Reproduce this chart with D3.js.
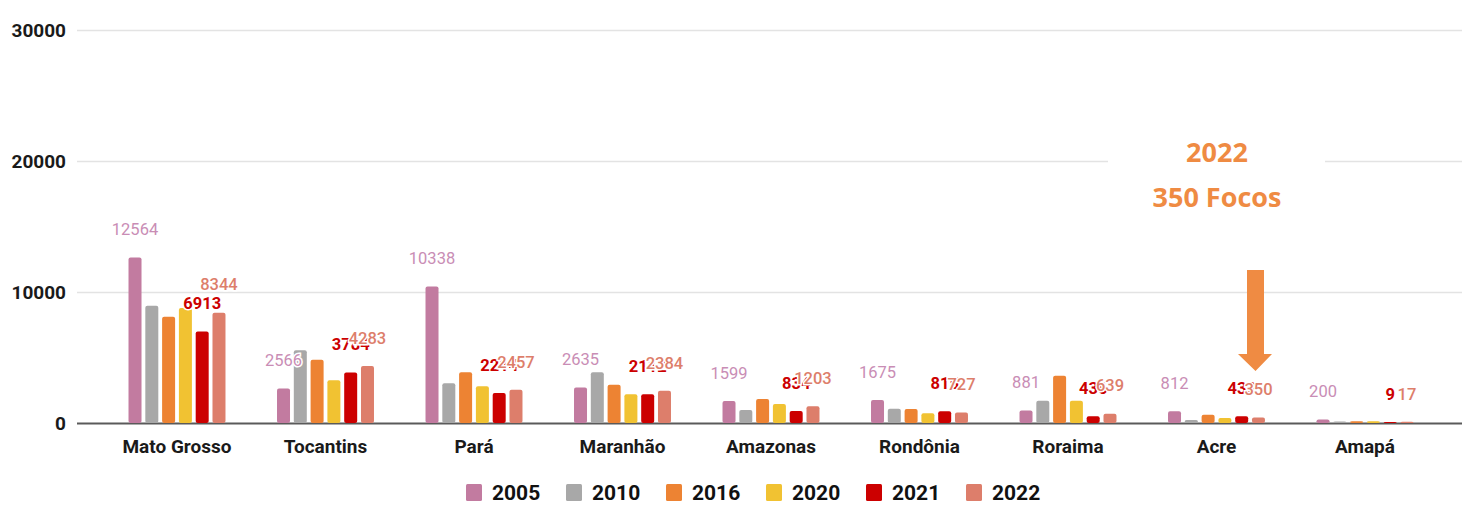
<!DOCTYPE html>
<html>
<head>
<meta charset="utf-8">
<script src="https://d3js.org/d3.v7.min.js"></script>
<style>
  body { margin: 0; background: #fff; }
  svg { display: block; font-family: Roboto, "Noto Sans", sans-serif; }
</style>
</head>
<body>
<script>
// Data (focos de queimadas por estado)
var states = ["Mato Grosso", "Tocantins", "Pará", "Maranhão", "Amazonas", "Rondônia", "Roraima", "Acre", "Amapá"];
var years = ["2005", "2010", "2016", "2020", "2021", "2022"];
var v2005 = [12564, 2566, 10338, 2635, 1599, 1675, 881, 812, 200];
var v2010 = [8880, 5470, 2950, 3790, 920, 1010, 1630, 150, 30];
var v2016 = [8040, 4760, 3790, 2850, 1760, 1000, 3540, 560, 60];
var v2020 = [8700, 3180, 2720, 2110, 1370, 660, 1620, 300, 50];
var v2021 = [6913, 3784, 2214, 2112, 834, 815, 436, 433, 9];
var v2022 = [8344, 4283, 2457, 2384, 1203, 727, 639, 350, 17];
var yTicks = [0, 10000, 20000, 30000];
var colors = ["#c27ba0", "#a8a8a8", "#ed8333", "#f1c232", "#cc0000", "#dd7e6b"];
var labelColors = { "2005": "#c98db5", "2021": "#cc0000", "2022": "#dd7e6b" };
var labelWeights = { "2005": 400, "2021": 700, "2022": 500 };

var series = [v2005, v2010, v2016, v2020, v2021, v2022];

var w = 1462, h = 505;
var plotLeft = 77, base = 423, plotTop = 30;

var svg = d3.select("body").append("svg")
  .attr("width", w)
  .attr("height", h);

var y = d3.scaleLinear().domain([0, 30000]).range([base, plotTop]);

var x0 = d3.scaleBand()
  .domain(states)
  .range([102.75, 1439.25])
  .paddingInner(0.347)
  .paddingOuter(0.1735);

var x1 = d3.scaleBand()
  .domain(years)
  .range([0, x0.bandwidth()])
  .paddingInner(0.226);

var color = d3.scaleOrdinal().domain(years).range(colors);

// gridlines + y labels
var yAxis = svg.append("g")
  .attr("transform", "translate(" + plotLeft + ",0)")
  .call(d3.axisLeft(y).tickValues(yTicks).tickSize(-(w - plotLeft)).tickPadding(11).tickFormat(d3.format("d")));
yAxis.select(".domain").remove();
yAxis.selectAll("line")
  .attr("stroke", function(d) { return d === 0 ? "#5a5a5a" : "#e3e3e3"; })
  .attr("stroke-width", function(d) { return d === 0 ? 2 : 1.5; });
yAxis.selectAll("text")
  .attr("font-size", 19)
  .attr("font-weight", 700)
  .attr("fill", "#1a1a1a")
  .attr("font-family", "Roboto");

// white box behind annotation hides gridline
svg.append("rect")
  .attr("x", 1108).attr("y", 132)
  .attr("width", 217).attr("height", 85)
  .attr("fill", "#fff");

// rows of values
var rows = states.map(function(s, i) {
  return { state: s, vals: years.map(function(yr, j) { return { year: yr, value: series[j][i] }; }) };
});

var groups = svg.append("g").selectAll("g")
  .data(rows)
  .enter().append("g")
  .attr("transform", function(d) { return "translate(" + x0(d.state) + ",0)"; });

// bars are drawn over the baseline (so tiny values still show as colour on it)
groups.selectAll("rect")
  .data(function(d) { return d.vals; })
  .enter().append("rect")
  .attr("x", function(d) { return x1(d.year); })
  .attr("y", function(d) { return y(d.value) - 1; })
  .attr("width", x1.bandwidth())
  .attr("height", function(d) { return base - y(d.value) + 1; })
  .attr("rx", 2)
  .attr("fill", function(d) { return color(d.year); });

// bar value labels (2005, 2021, 2022) with white halo
["2005", "2021", "2022"].forEach(function(yr) {
  groups.append("text")
    .datum(function(d) { return d.vals.filter(function(v) { return v.year === yr; })[0]; })
    .attr("x", function(d) { return x1(d.year) + x1.bandwidth() / 2; })
    .attr("y", function(d) { return y(d.value) - 29; })
    .attr("dy", "0.35em")
    .attr("text-anchor", "middle")
    .attr("font-size", 16.5)
    .attr("font-weight", labelWeights[yr])
    .attr("fill", labelColors[yr])
    .attr("stroke", "#fff")
    .attr("stroke-width", 3)
    .attr("paint-order", "stroke")
    .text(function(d) { return d.value; });
});

// x axis labels
var xAxis = svg.append("g")
  .attr("transform", "translate(0," + base + ")")
  .call(d3.axisBottom(x0).tickSize(0).tickPadding(17));
xAxis.select(".domain").remove();
xAxis.selectAll("text")
  .attr("font-size", 19)
  .attr("font-weight", 700)
  .attr("fill", "#1a1a1a")
  .attr("font-family", "Roboto");

// legend
var legend = svg.append("g").selectAll("g")
  .data(years)
  .enter().append("g")
  .attr("transform", function(d, i) { return "translate(" + (466 + i * 100) + ",484)"; });

legend.append("rect")
  .attr("width", 16).attr("height", 17)
  .attr("rx", 1.5)
  .attr("fill", function(d) { return color(d); });

legend.append("text")
  .attr("x", 26)
  .attr("y", 8.5)
  .attr("dy", "0.36em")
  .attr("font-size", 21)
  .attr("font-weight", 700)
  .attr("fill", "#111")
  .text(function(d) { return d; });

// annotation
var orange = "#ef8b43";
svg.append("text")
  .attr("x", 1217).attr("y", 152).attr("dy", "0.36em")
  .attr("text-anchor", "middle")
  .attr("font-family", "'Open Sans'")
  .attr("font-size", 27).attr("font-weight", 700)
  .attr("fill", orange)
  .text("2022");
svg.append("text")
  .attr("x", 1217).attr("y", 197).attr("dy", "0.36em")
  .attr("text-anchor", "middle")
  .attr("font-family", "'Open Sans'")
  .attr("font-size", 27).attr("font-weight", 700)
  .attr("fill", orange)
  .text("350 Focos");

svg.append("path")
  .attr("d", "M1247,270 L1264,270 L1264,354 L1272,354 L1255.5,371 L1238,354 L1247,354 Z")
  .attr("fill", orange);
</script>
</body>
</html>
